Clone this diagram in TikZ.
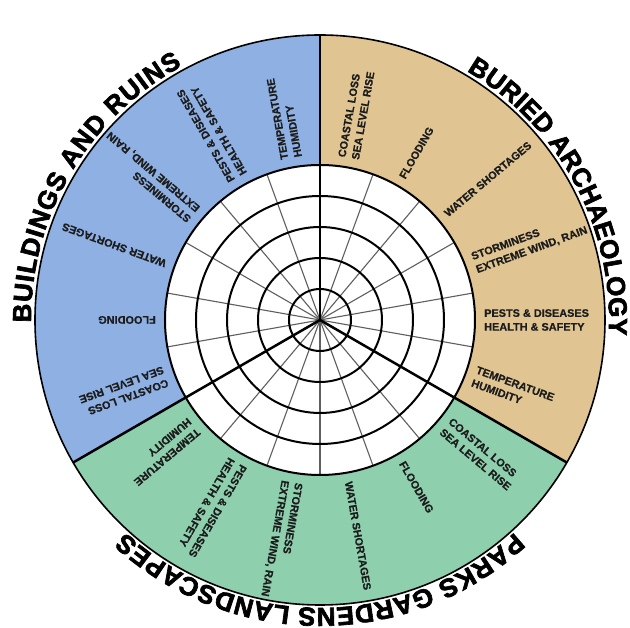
\documentclass[tikz,border=0pt]{standalone}
\usepackage{fontspec}
\setmainfont{Liberation Sans}
\newfontfamily\labfont{Liberation Sans}[BoldFeatures={FakeBold=0.6}]
\newfontfamily\titlefont{Liberation Sans}[BoldFeatures={FakeBold=2.5}]
\newcommand\tfont{\titlefont\bfseries\fontsize{26}{26}\selectfont}
\usetikzlibrary{decorations.text}
\definecolor{blueR}{RGB}{142,176,226}
\definecolor{tanR}{RGB}{224,197,146}
\definecolor{greenR}{RGB}{142,207,174}
\definecolor{spokegray}{RGB}{95,95,95}
\definecolor{labtxt}{RGB}{28,28,28}
\begin{document}
\begin{tikzpicture}[
  lab/.style={anchor=west, inner sep=0pt, align=left,
    font=\labfont\bfseries\fontsize{10.9}{13.8}\selectfont, text=labtxt},
  ringline/.style={line width=2pt, draw=black},
  spokeline/.style={line width=1.1pt, draw=spokegray},
  borderline/.style={line width=2.5pt, draw=black},
  titlepath/.style={decorate, decoration={text along path, text={|\tfont|#1}, text align=fit to path}}]
\useasboundingbox (-320pt,-308pt) rectangle (310pt,320pt);
% coloured sectors
\fill[blueR] (0,0) -- (90:285pt) arc[start angle=90, end angle=210, radius=285pt] -- cycle;
\fill[tanR] (0,0) -- (-30:285pt) arc[start angle=-30, end angle=90, radius=285pt] -- cycle;
\fill[greenR] (0,0) -- (210:285pt) arc[start angle=210, end angle=330, radius=285pt] -- cycle;
\fill[white] (0,0) circle[radius=155pt];
% grid
\foreach \a in {10,30,...,350} \draw[spokeline] (0,0) -- (\a:155pt);
\foreach \r in {31,62,93,124,155} \draw[ringline] (0,0) circle[radius=\r pt];
\draw[line width=1.6pt] (0,0) circle[radius=285pt];
\foreach \a in {90,210,330} \draw[borderline] (0,0) -- (\a:285pt);
% labels
\foreach \ang/\txt [count=\i] in {
  80/{COASTAL LOSS\\SEA LEVEL RISE}, 60/{FLOODING}, 40/{WATER SHORTAGES},
  20/{STORMINESS\\EXTREME WIND, RAIN}, 0/{PESTS \& DISEASES\\HEALTH \& SAFETY},
  -20/{TEMPERATURE\\HUMIDITY},
  100/{TEMPERATURE\\HUMIDITY}, 120/{PESTS \& DISEASES\\HEALTH \& SAFETY},
  140/{STORMINESS\\EXTREME WIND, RAIN}, 160/{WATER SHORTAGES}, 180/{FLOODING},
  200/{COASTAL LOSS\\SEA LEVEL RISE},
  220/{TEMPERATURE\\HUMIDITY}, 240/{PESTS \& DISEASES\\HEALTH \& SAFETY},
  260/{STORMINESS\\EXTREME WIND, RAIN}, 280/{WATER SHORTAGES}, 300/{FLOODING},
  320/{COASTAL LOSS\\SEA LEVEL RISE}}
  \node[lab, rotate=\ang] (lab\i) at (\ang:164pt) {\txt};
% titles
\path[titlepath={BUILDINGS AND RUINS}] (180.5:289pt) arc[start angle=180.5, end angle=118.5, radius=289pt];
\path[titlepath={BURIED ARCHAEOLOGY}] (59.5:289pt) arc[start angle=59.5, end angle=-3, radius=289pt];
\path[titlepath={PARKS GARDENS LANDSCAPES}] (-47.5:288pt) arc[start angle=-47.5, end angle=-132.5, radius=288pt];
\end{tikzpicture}
\end{document}
